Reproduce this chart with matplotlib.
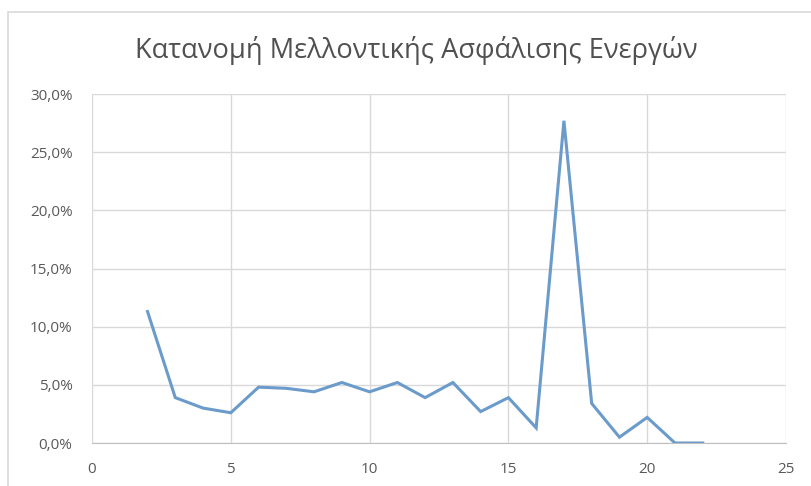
import matplotlib
matplotlib.use("Agg")
import matplotlib.pyplot as plt
from matplotlib.patches import Rectangle
from matplotlib.ticker import FuncFormatter

# data (x position, share in %)
x_vals = [2, 3, 4, 5, 6, 7, 8, 9, 10, 11, 12, 13, 14, 15, 16, 17, 18, 19, 20, 21, 22]
y_vals = [11.3, 3.9, 3.0, 2.6, 4.8, 4.7, 4.4, 5.2, 4.4, 5.2, 3.9, 5.2, 2.7, 3.9, 1.3,
          27.7, 3.4, 0.5, 2.2, 0.0, 0.0]
title = "Κατανομή Μελλοντικής Ασφάλισης Ενεργών"

plt.rcParams['font.family'] = ['Open Sans', 'DejaVu Sans']

fig = plt.figure(figsize=(8.12, 4.86), dpi=100)
# outer chart border
fig.patches.append(Rectangle((8 / 812, -0.1), 1.2, 1 - 12 / 486 + 0.1, transform=fig.transFigure,
                             fill=False, ec="#d9d9d9", lw=1.2))
ax = fig.add_axes([92 / 812, 1 - 443 / 486, (786 - 92) / 812, (443 - 94) / 486])

ax.plot(x_vals, y_vals, color="#6a9bcb", lw=2.2, solid_joinstyle="miter")

ax.set_xlim(0, 25)
ax.set_ylim(0, 30)
ax.set_xticks([0, 5, 10, 15, 20, 25])
ax.set_yticks([0, 5, 10, 15, 20, 25, 30])
ax.yaxis.set_major_formatter(FuncFormatter(lambda v, p: f"{v:.1f}%".replace(".", ",")))
ax.grid(True, color="#d9d9d9", lw=1)
ax.set_axisbelow(True)
for sp in ("top", "right", "left"):
    ax.spines[sp].set_visible(False)
ax.spines["bottom"].set_color("#bfbfbf")
ax.tick_params(length=0, labelsize=11, labelcolor="#595959")
ax.tick_params(axis="y", pad=14)
ax.tick_params(axis="x", pad=14)

fig.text(416 / 812, 1 - 58 / 486, title, ha="center", va="baseline", fontsize=19.6, color="#505050")

plt.savefig("out.png", dpi=100)
